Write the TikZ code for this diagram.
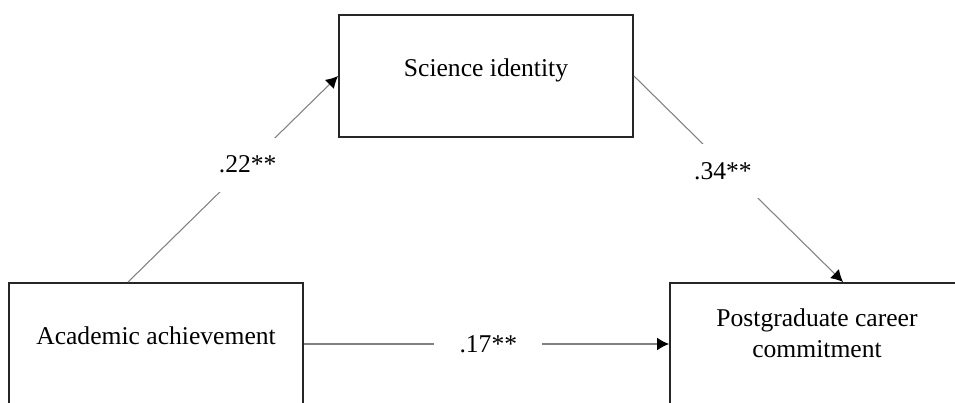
\documentclass[tikz,border=0pt]{standalone}
\usepackage{fontspec}
\setmainfont{Liberation Serif}
\usetikzlibrary{arrows.meta}
\begin{document}
\begin{tikzpicture}[x=0.025cm, y=-0.025cm,
  font=\fontsize{18.2}{22}\selectfont,
  box/.style={draw=black!85, line width=1.3pt, minimum width=7.35cm, minimum height=3.05cm, inner sep=0pt},
  link/.style={draw=black!50, line width=0.75pt, -{Latex[color=black, length=8.5pt, width=9pt]}},
  coef/.style={fill=white, inner xsep=18pt, inner ysep=13pt}]
\useasboundingbox (0,0) rectangle (955,402);
\clip (0,0) rectangle (955,402);

\node[box] (sci) at (486,76) {};
\node[box] (ach) at (156,344) {};
\node[box] (car) at (817,344) {};

\node[anchor=base] (scitxt) at (sci.center) {Science identity};
\node[anchor=base] (achtxt) at (ach.center) {Academic achievement};
\node[align=center, yshift=0.26cm] (cartxt) at (car.center) {Postgraduate career\\commitment};

\draw[link] ([xshift=-0.7cm]ach.north) -- node[coef, pos=0.57] (b1) {.22**} (sci.west);
\draw[link] (sci.east) -- node[coef, pos=0.46, xshift=-0.18cm] (b2) {.34**} ([xshift=4.35cm]car.north west);
\draw[link] (ach.east) -- node[coef, pos=0.505] (b3) {.17**} (car.west);

\end{tikzpicture}
\end{document}
